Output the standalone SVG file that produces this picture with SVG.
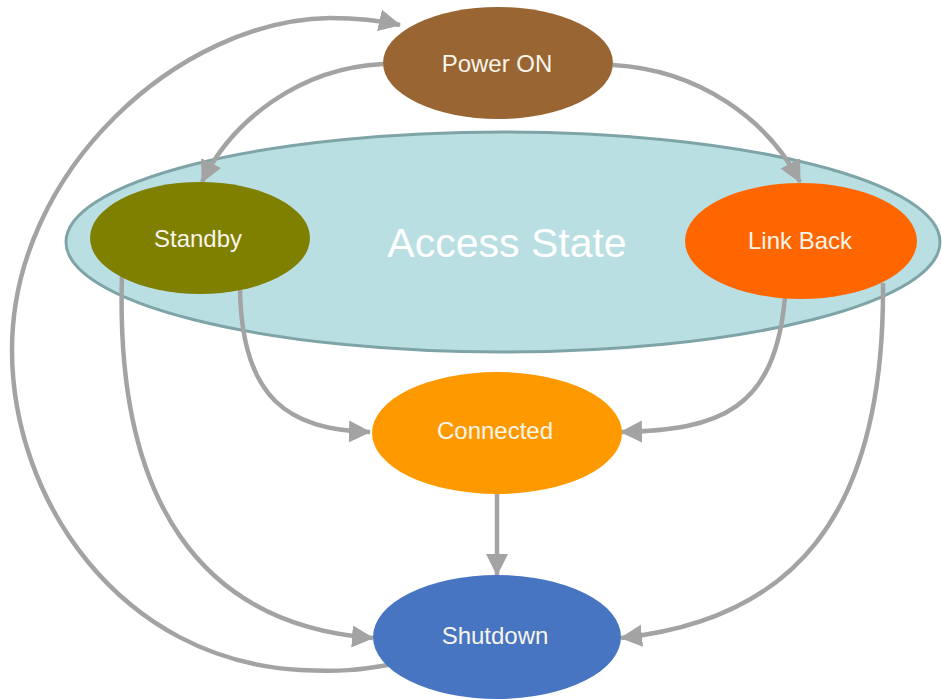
<svg xmlns="http://www.w3.org/2000/svg" width="942" height="699" viewBox="0 0 942 699">
<style>
.edge{fill:none;stroke:#a3a3a3;stroke-width:4.5;marker-end:url(#arr)}
.lbl{font-family:"Liberation Sans",Arial,sans-serif;font-size:24px;fill:#f7f5ea;text-anchor:middle}
</style>
<defs>
<marker id="arr" markerUnits="userSpaceOnUse" markerWidth="24" markerHeight="24" refX="21" refY="11" orient="auto">
<path d="M0,0 L22,11 L0,22 z" fill="#a3a3a3"/>
</marker>
</defs>
<rect width="942" height="699" fill="#ffffff"/>
<g id="access-state">
<ellipse cx="503" cy="242" rx="437" ry="110" fill="#b9dfe3" stroke="#7fa4a7" stroke-width="3"/>
<text x="507" y="257" font-family="'Liberation Sans',Arial,sans-serif" font-size="41" fill="#ffffff" text-anchor="middle">Access State</text>
</g>
<g id="connectors">
<path class="edge" d="M 388 665 C 360 670, 340 672, 300 670 C 120 660, 12 500, 12 350 C 12 170, 180 20, 330 18 C 355 18, 378 20, 400 25"/>
<path class="edge" d="M 383 64 C 300 68, 232 120, 202 182"/>
<path class="edge" d="M 613 65 C 700 70, 768 120, 800 182"/>
<path class="edge" d="M 240 290 C 242 400, 290 430, 370 432"/>
<path class="edge" d="M 122 276 C 115 500, 200 625, 373 638"/>
<path class="edge" d="M 785 297 C 775 410, 720 430, 621 432"/>
<path class="edge" d="M 883 283 C 885 520, 790 620, 621 638"/>
<path class="edge" d="M 497 494 L 497 575"/>
</g>
<g id="power-on">
<ellipse cx="498" cy="63" rx="115" ry="56" fill="#996533"/>
<text class="lbl" x="497" y="72">Power ON</text>
</g>
<g id="standby">
<ellipse cx="200" cy="238" rx="110" ry="56" fill="#7f7f00"/>
<text class="lbl" x="198" y="247">Standby</text>
</g>
<g id="link-back">
<ellipse cx="801" cy="241" rx="116" ry="58" fill="#ff6600"/>
<text class="lbl" x="800" y="249">Link Back</text>
</g>
<g id="connected">
<ellipse cx="497" cy="433" rx="125" ry="61" fill="#ff9900"/>
<text class="lbl" x="495" y="439">Connected</text>
</g>
<g id="shutdown">
<ellipse cx="497" cy="637" rx="124" ry="62" fill="#4775c1"/>
<text class="lbl" x="495" y="644">Shutdown</text>
</g>
</svg>
